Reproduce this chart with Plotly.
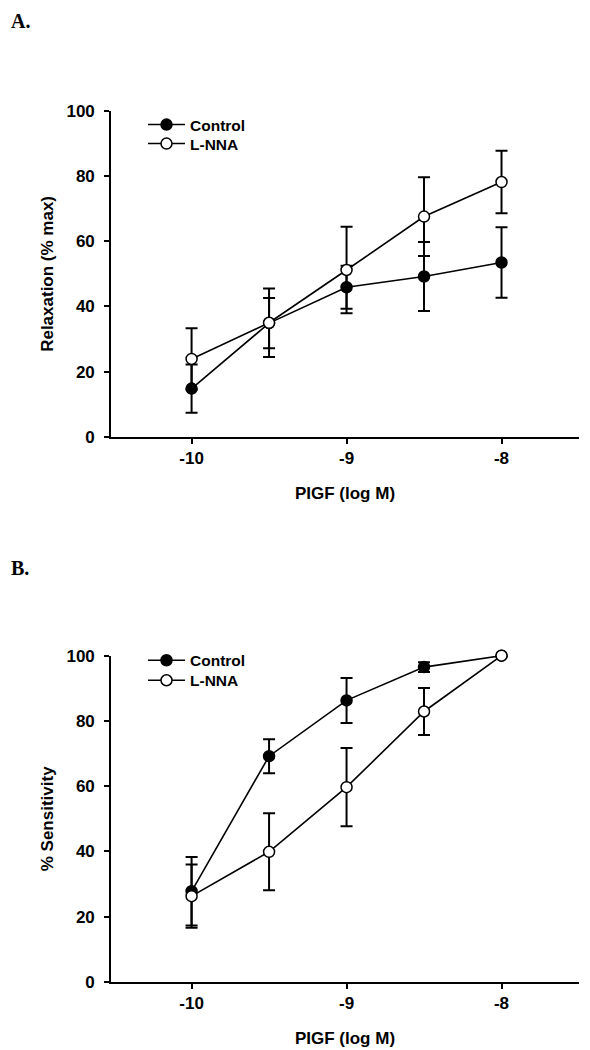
import plotly.graph_objects as go

# ---------------- data ----------------
conc = [-10, -9.5, -9, -8.5, -8]

# Panel A: relaxation (% max)
relax_control = [14.8, 34.9, 45.9, 49.2, 53.5]
relax_control_err = [7.4, 7.7, 6.6, 10.6, 10.8]
relax_lnna = [23.9, 35.0, 51.2, 67.6, 78.2]
relax_lnna_err = [9.4, 10.5, 13.3, 12.1, 9.6]

# Panel B: % sensitivity
sens_control = [27.8, 69.2, 86.3, 96.5, 100.0]
sens_control_err = [10.5, 5.2, 6.9, 1.5, None]
sens_lnna = [26.3, 39.9, 59.7, 82.9, 100.0]
sens_lnna_err = [9.7, 11.8, 12.0, 7.2, None]

x_ticks = [-10, -9, -8]
x_tick_labels = ["-10", "-9", "-8"]
y_ticks = [0, 20, 40, 60, 80, 100]

series_names = ["Control", "L-NNA"]
panel_labels = ["A.", "B."]
y_titles = ["Relaxation (% max)", "% Sensitivity"]
x_title = "PIGF (log M)"

# ---------------- layout geometry (screen pixels) ----------------
OFF = 8                    # default body margin of the html page
W, H = 590 - OFF, 1050 - OFF
PL, PR = 111 - OFF, 579 - OFF
PT, PB = 111 - OFF, 982.5 - OFF
A_top, A_bot = 111, 437
B_top, B_bot = 656, 982.5

def px_x(px):
    return (px - OFF - PL) / (PR - PL)

def px_y(py):
    return (PB - (py - OFF)) / (PB - PT)

FONT = "Liberation Sans, Arial, sans-serif"

fig = go.Figure()

def add_series(y, err, name, fill, xa, ya, legend):
    fig.add_trace(go.Scatter(
        x=conc, y=y, name=name, mode="lines+markers",
        xaxis=xa, yaxis=ya, legend=legend, showlegend=True,
        line=dict(color="black", width=1.6),
        marker=dict(size=11, color=fill, line=dict(color="black", width=1.5)),
        error_y=dict(type="data", array=err, visible=True,
                     color="black", thickness=2, width=6),
        cliponaxis=False,
    ))

add_series(relax_control, relax_control_err, series_names[0], "black", "x", "y", "legend")
add_series(relax_lnna, relax_lnna_err, series_names[1], "white", "x", "y", "legend2")
add_series(sens_control, sens_control_err, series_names[0], "black", "x2", "y2", "legend3")
add_series(sens_lnna, sens_lnna_err, series_names[1], "white", "x2", "y2", "legend4")

tickfont = dict(family=FONT, size=17, color="black", weight="bold")
titlefont = dict(family=FONT, size=17, color="black", weight="bold")

xaxis_common = dict(
    range=[-10.52, -7.5], tickvals=x_ticks, ticktext=x_tick_labels,
    showline=True, linecolor="black", linewidth=1.6,
    ticks="outside", ticklen=5, tickwidth=1.5, tickcolor="black",
    showgrid=False, zeroline=False, automargin=False,
    tickfont=tickfont, ticklabelstandoff=0,
    title=dict(text=x_title, font=titlefont, standoff=20),
    domain=[0, 1],
)
yaxis_common = dict(
    range=[0, 100], tickvals=y_ticks,
    showline=True, linecolor="black", linewidth=1.6,
    ticks="outside", ticklen=5, tickwidth=1.5, tickcolor="black",
    showgrid=False, zeroline=False, automargin=False,
    tickfont=tickfont, ticklabelstandoff=6,
)

legend_common = dict(xanchor="left", yanchor="middle", bgcolor="rgba(0,0,0,0)", borderwidth=0,
                     itemwidth=37,
                     font=dict(family=FONT, size=15.5, color="black", weight="bold"))

fig.update_layout(
    width=W, height=H,
    margin=dict(l=PL, r=W - PR, t=PT, b=H - PB, autoexpand=False),
    paper_bgcolor="white", plot_bgcolor="white",
    xaxis=dict(**xaxis_common, anchor="y"),
    xaxis2=dict(**xaxis_common, anchor="y2"),
    yaxis=dict(**yaxis_common, anchor="x", domain=[px_y(A_bot), px_y(A_top)],
               title=dict(text=y_titles[0], font=titlefont, standoff=8)),
    yaxis2=dict(**yaxis_common, anchor="x2", domain=[px_y(B_bot), px_y(B_top)],
                title=dict(text=y_titles[1], font=titlefont, standoff=8)),
    legend=dict(x=px_x(143), y=px_y(125), **legend_common),
    legend2=dict(x=px_x(143), y=px_y(144), **legend_common),
    legend3=dict(x=px_x(143), y=px_y(661), **legend_common),
    legend4=dict(x=px_x(143), y=px_y(681), **legend_common),
    showlegend=True,
)

for lbl, ypx in zip(panel_labels, [21, 568]):
    fig.add_annotation(text=lbl, xref="paper", yref="paper", x=px_x(OFF + 3), y=px_y(ypx),
                       xanchor="left", yanchor="middle", showarrow=False,
                       borderpad=0, borderwidth=0,
                       font=dict(family="Liberation Serif, Times New Roman, serif", size=20,
                                 color="black", weight="bold"))

fig.write_html("out.html")
